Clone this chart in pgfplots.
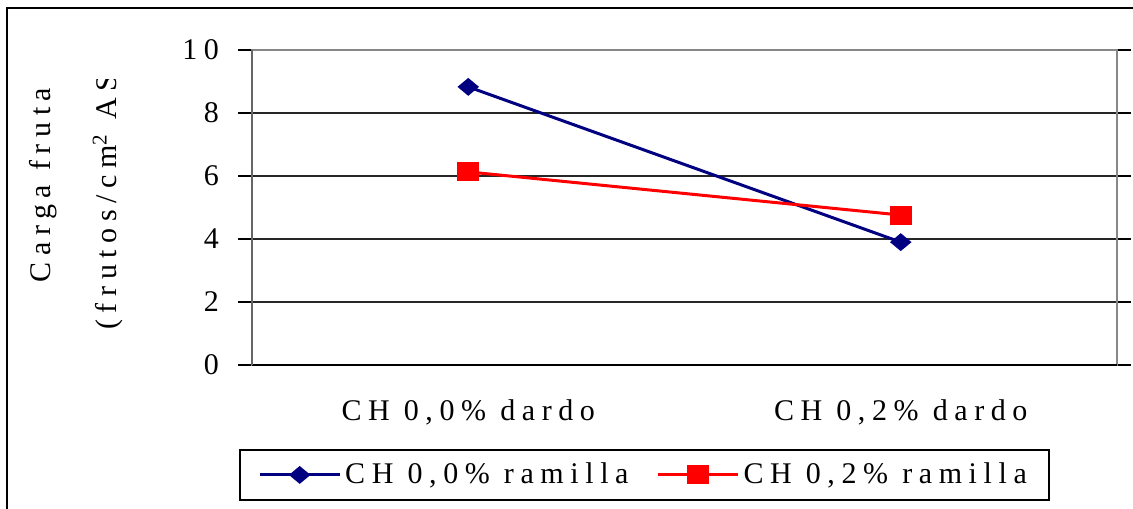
\documentclass[border=0pt]{standalone}
\usepackage{pgfplots}
\pgfplotsset{compat=1.18}
\usepackage{fontspec}
\setmainfont{Liberation Serif}[LetterSpace=22]
\definecolor{navyline}{RGB}{0,0,128}
\definecolor{plotborder}{RGB}{135,135,135}
\newcommand{\chartfont}{\fontsize{15pt}{17pt}\selectfont}

\begin{document}
\begin{tikzpicture}
\useasboundingbox (0,0) rectangle (566.5pt,254pt);
% outer chart frame
\draw[black, line width=1pt] (3.5pt,-20pt) rectangle (600pt,249.75pt);

\begin{axis}[
  at={(126pt,71.5pt)}, anchor=south west,
  scale only axis, width=432.5pt, height=157.5pt,
  xmin=-0.5, xmax=1.5, ymin=0, ymax=10,
  ytick={0,2,...,10},
  xtick={0,1},
  xticklabels={{CH 0,0\% dardo}, {CH 0,2\% dardo}},
  major x tick style={draw=none},
  extra x ticks={-0.5,0.5,1.5},
  extra x tick labels={},
  extra x tick style={grid=none, major tick length=5pt, tick align=outside,
    tick style={draw=plotborder, line width=1pt}},
  y tick style={black, line width=0.6pt},
  tick align=outside, major tick length=7pt,
  ymajorgrids,
  grid style={black!85, line width=0.6pt},
  axis line style={draw=plotborder, line width=1pt},
  /pgf/number format/assume math mode=true,
  tick label style={font=\chartfont},
  yticklabel style={xshift=-6pt},
  xticklabel style={yshift=-7pt},
  legend style={at={(0.4538,-0.349)}, anchor=center, draw=black,
    line width=0.8pt, font=\chartfont, legend columns=2,
    inner xsep=9pt, inner ysep=4.5pt,
    /tikz/every even column/.append style={column sep=12pt}},
  legend cell align=left,
  legend image code/.code={
    \draw[#1, mark repeat=2, mark phase=2] plot coordinates {(0pt,0pt) (20pt,0pt) (40pt,0pt)};
  },
  clip=false,
]
\addplot[navyline, line width=1.5pt, mark=diamond*, mark size=3.5pt,
  mark options={solid, fill=navyline, xscale=1.6}]
  coordinates {(0,8.83) (1,3.90)};
\addlegendentry{CH 0,0\% ramilla}
\addplot[red, line width=1.5pt, mark=square*, mark size=4pt,
  mark options={solid, fill=red, xscale=1.2}]
  coordinates {(0,6.13) (1,4.76)};
\addlegendentry{CH 0,2\% ramilla}
% category axis and value axis lines
\draw[black, line width=0.8pt] (rel axis cs:0,0) -- (rel axis cs:1,0);
\draw[black!60, line width=1pt] (rel axis cs:0,0) -- (rel axis cs:0,1);
\end{axis}

% value axis title, two lines
\node[rotate=90, font=\chartfont] at (21.5pt,161.5pt) {Carga fruta};
\begin{scope}
  \clip (0pt,0pt) rectangle (110pt,214pt);
  \node[rotate=90, anchor=west, font=\chartfont, inner sep=0pt] at (54pt,89pt)
    {(frutos/cm\textsuperscript{2} ASTC)};
\end{scope}
\end{tikzpicture}
\end{document}
